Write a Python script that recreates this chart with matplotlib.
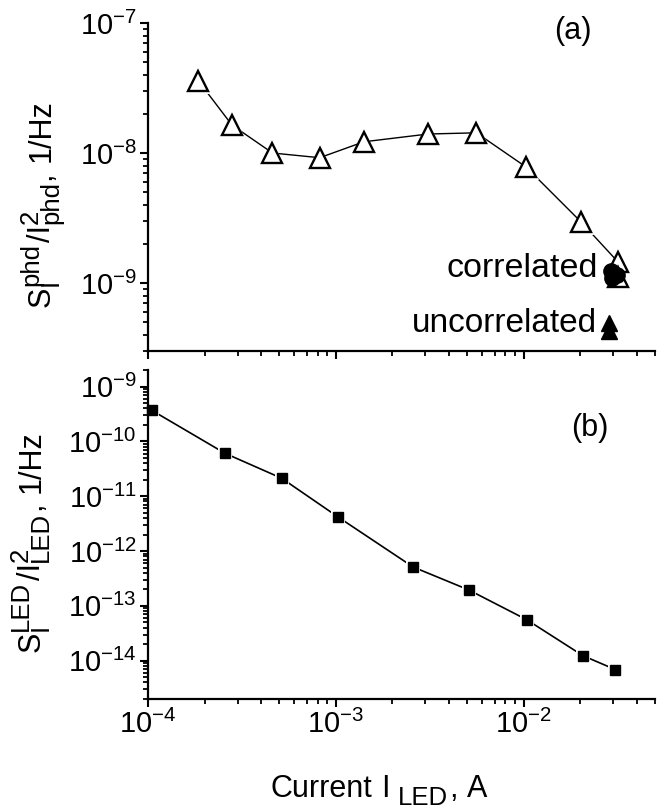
import matplotlib
matplotlib.use('Agg')
import matplotlib.pyplot as plt
from matplotlib.transforms import IdentityTransform
from matplotlib.ticker import LogLocator, NullFormatter

plt.rcParams['font.family'] = ['Liberation Sans', 'DejaVu Sans']
plt.rcParams['mathtext.fontset'] = 'custom'
plt.rcParams['mathtext.rm'] = 'Liberation Sans'
plt.rcParams['mathtext.it'] = 'Liberation Sans:italic'
plt.rcParams['mathtext.bf'] = 'Liberation Sans:bold'
plt.rcParams['mathtext.default'] = 'regular'
plt.rcParams['axes.unicode_minus'] = False

# ---------------- data ----------------
# panel (a): photodiode noise (open triangles)
phd_current = [1.85e-4, 2.8e-4, 4.6e-4, 8.2e-4, 1.41e-3, 3.1e-3, 5.6e-3, 1.03e-2, 2.02e-2, 3.18e-2]
phd_noise = [3.6e-8, 1.64e-8, 1.0e-8, 9.2e-9, 1.22e-8, 1.4e-8, 1.43e-8, 7.8e-9, 2.95e-9, 1.45e-9]
phd_extra_current = [3.18e-2]
phd_extra_noise = [1.11e-9]
# correlated (filled circles)
corr_current = [2.9e-2, 3.12e-2, 2.95e-2]
corr_noise = [1.24e-9, 1.16e-9, 1.1e-9]
# uncorrelated (filled triangles)
uncorr_current = [2.85e-2, 2.85e-2]
uncorr_noise = [4.9e-10, 4.3e-10]

# panel (b): LED noise (filled squares)
led_current = [1.05e-4, 2.57e-4, 5.15e-4, 1.03e-3, 2.58e-3, 5.1e-3, 1.04e-2, 2.07e-2, 3.07e-2]
led_noise = [3.66e-10, 6.05e-11, 2.12e-11, 4.15e-12, 5.1e-13, 1.95e-13, 5.56e-14, 1.23e-14, 6.9e-15]

xlim = (1e-4, 5e-2)
ylim_a = (3e-10, 1e-7)
ylim_b = (2e-15, 2e-9)

# ---------------- figure ----------------
W, H = 662, 810
fig = plt.figure(figsize=(W / 100, H / 100), dpi=100)
renderer = fig.canvas.get_renderer()


def rect(l, t, r, b):
    return [l / W, 1 - b / H, (r - l) / W, (b - t) / H]


ax1 = fig.add_axes(rect(148, 23, 655, 351))
ax2 = fig.add_axes(rect(148, 370, 655, 699))

TICK_FS = 21

for ax in (ax1, ax2):
    ax.set_xscale('log')
    ax.set_yscale('log')
    ax.set_xlim(*xlim)
    for s in ('top', 'right'):
        ax.spines[s].set_visible(False)
    for s in ('left', 'bottom'):
        ax.spines[s].set_linewidth(1.6)
    ax.xaxis.set_major_locator(LogLocator(base=10, numticks=20))
    ax.xaxis.set_minor_locator(LogLocator(base=10, subs=range(2, 10), numticks=20))
    ax.yaxis.set_major_locator(LogLocator(base=10, numticks=20))
    ax.yaxis.set_minor_locator(LogLocator(base=10, subs=range(2, 10), numticks=20))
    ax.xaxis.set_minor_formatter(NullFormatter())
    ax.yaxis.set_minor_formatter(NullFormatter())
    ax.tick_params(which='major', direction='out', length=6, width=1.5,
                   labelsize=TICK_FS, pad=2)
    ax.tick_params(which='minor', direction='out', length=3.5, width=1.3)

ax1.set_ylim(*ylim_a)
ax2.set_ylim(*ylim_b)
ax1.tick_params(axis='x', which='both', labelbottom=False)

# panel (a)
ax1.plot(phd_current, phd_noise, '-', color='black', lw=1.0, zorder=1)
ax1.plot(phd_current, phd_noise, '^', ms=18, mfc='white', mec='white', mew=0, zorder=2)
ax1.plot(phd_current + phd_extra_current, phd_noise + phd_extra_noise, '^', ms=14,
         mfc='white', mec='black', mew=1.7, zorder=3)
ax1.plot(corr_current, corr_noise, 'o', ms=11, mfc='black', mec='black', zorder=4)
ax1.plot(uncorr_current, uncorr_noise, '^', ms=12, mfc='black', mec='black', zorder=4)

ax1.text(0.888, 0.2256, 'correlated', transform=ax1.transAxes, ha='right',
         va='baseline', fontsize=24.5)
ax1.text(0.886, 0.058, 'uncorrelated', transform=ax1.transAxes, ha='right',
         va='baseline', fontsize=24)
ax1.text(0.838, 0.976, '(a)', transform=ax1.transAxes, ha='center',
         va='center', fontsize=22)

# panel (b)
ax2.plot(led_current, led_noise, '-', color='black', lw=1.2, zorder=1)
ax2.plot(led_current, led_noise, 's', ms=10, mfc='white', mec='white', mew=0, zorder=2)
ax2.plot(led_current, led_noise, 's', ms=6.5, mfc='black', mec='black', zorder=3,
         clip_on=False)
ax2.text(0.872, 0.824, '(b)', transform=ax2.transAxes, ha='center',
         va='center', fontsize=22)


# ---------------- rich labels (Origin-like sub/superscripts) ----------------
def text_width(s, size):
    t = fig.text(0, 0, s, fontsize=size)
    w = t.get_window_extent(renderer).width
    t.remove()
    return w


def rich(pieces, start, base, vertical):
    """pieces: list of items; an item is ('gap', px) or a list of
    (text, size, shift_px) drawn at the same pen position (stacked)."""
    p = start
    for item in pieces:
        if item[0] == 'gap':
            p += item[1]
            continue
        adv = 0
        for s, size, shift in item:
            if vertical:
                fig.text(base - shift, p, s, fontsize=size, rotation=90,
                         rotation_mode='anchor', ha='left', va='baseline',
                         transform=IdentityTransform())
            else:
                fig.text(p, base + shift, s, fontsize=size, ha='left',
                         va='baseline', transform=IdentityTransform())
            adv = max(adv, text_width(s, size))
        p += adv + 1


B = 22      # base label size (pt)
SC = 18.5   # script size (pt)
UP, DN = 12, -8
sp = 8

ylab_a = [[('S', B, 0)], [('phd', SC, UP), ('I', SC, DN)], [('/I', B, 0)],
          [('2', SC, UP), ('phd', SC, DN)], [(',', B, 0)], ('gap', sp),
          [('1/Hz', B, 0)]]
rich(ylab_a, H - 307, 50, vertical=True)

ylab_b = [[('S', B, 0)], [('LED', SC, UP), ('I', SC, DN)], [('/I', B, 0)],
          [('2', SC, UP), ('LED', SC, DN)], [(',', B, 0)], ('gap', sp),
          [('1/Hz', B, 0)]]
rich(ylab_b, H - 652, 40, vertical=True)

xlab = [[('Current', B, 0)], ('gap', sp), [('I', B, 0)], ('gap', sp),
        [('LED', SC, DN)], [(',', B, 0)], ('gap', sp), [('A', B, 0)]]
rich(xlab, 270, H - 797, vertical=False)

fig.savefig('out.png', dpi=100)
